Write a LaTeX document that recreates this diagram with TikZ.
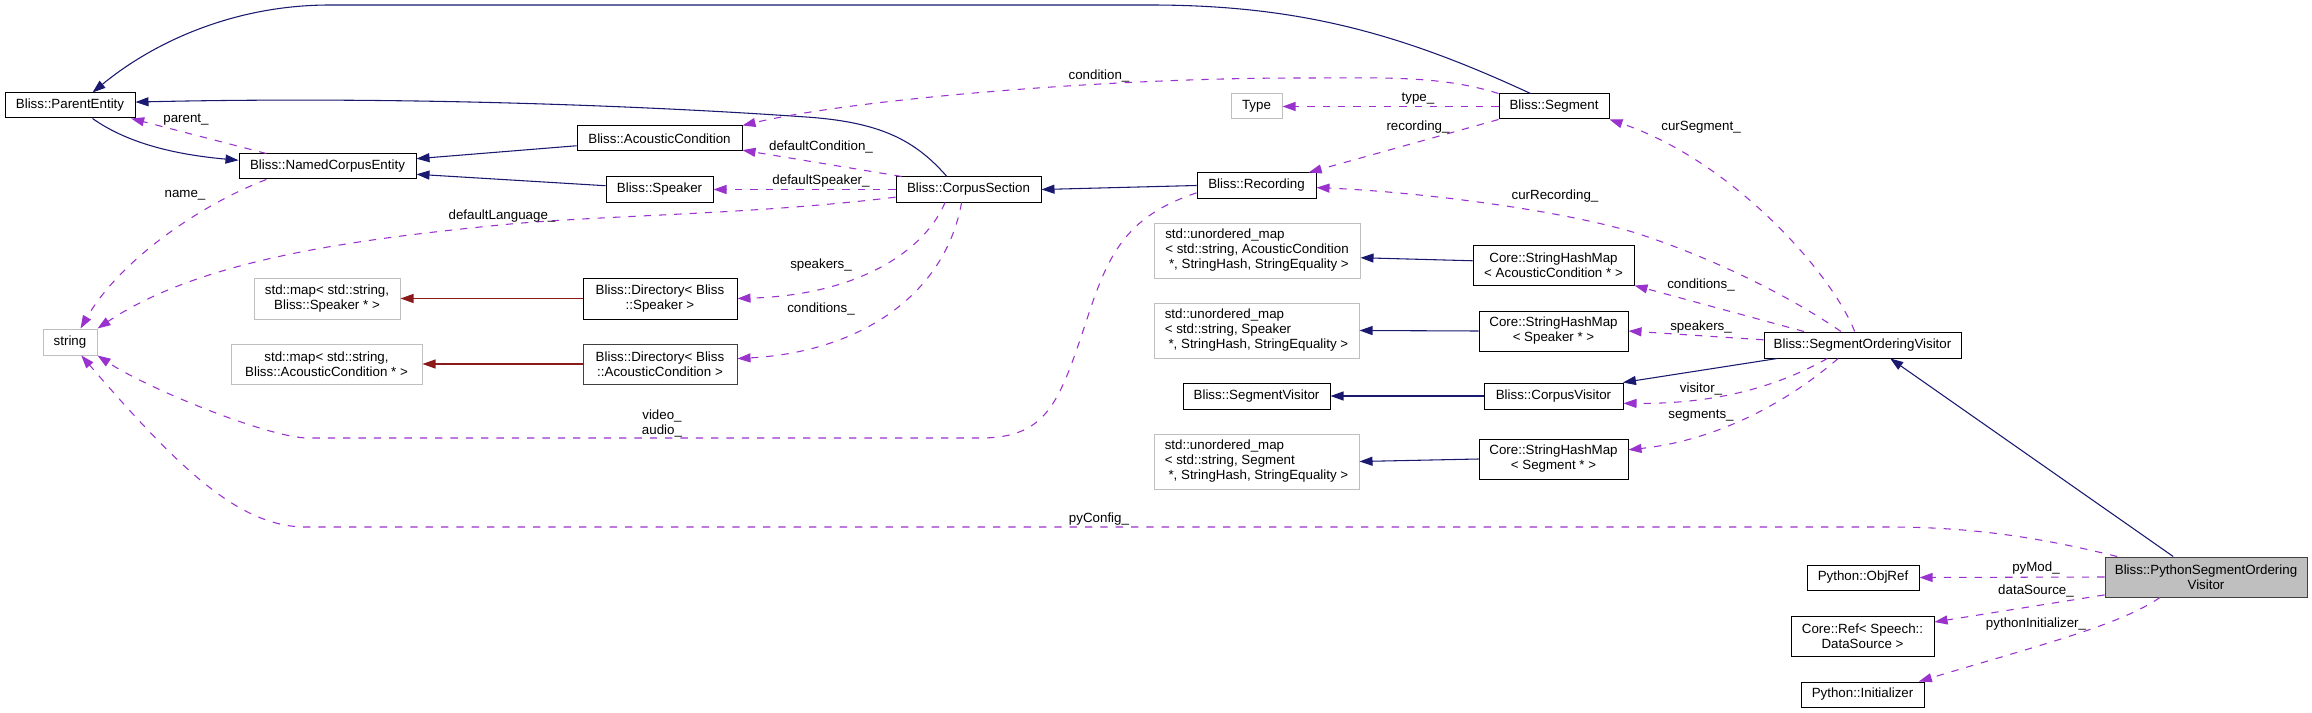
\documentclass[tikz,border=0pt]{standalone}
\usepackage{fontspec}
\setmainfont{Liberation Sans}
\usetikzlibrary{arrows.meta}
\definecolor{midblue}{HTML}{191970}
\definecolor{usepurple}{HTML}{9A32CD}
\definecolor{tplred}{HTML}{8B1A1A}
\definecolor{gray75}{HTML}{BFBFBF}
\newcommand\dfont{\fontsize{10pt}{11.25pt}\selectfont}
\tikzset{
  cls/.style={draw=black, line width=0.75pt, inner sep=0pt, font=\dfont, align=center},
  ext/.style={cls, draw=gray75},
  sz/.style 2 args={minimum width=#1*0.75pt, minimum height=#2*0.75pt},
  tip/.style={-{Triangle[length=9.75pt,width=6.75pt]}},
  inh/.style={draw=midblue, line width=0.8pt, tip},
  tpl/.style={draw=tplred, line width=0.8pt, tip},
  use/.style={draw=usepurple, line width=0.8pt, dash pattern=on 5.5pt off 6pt, tip},
  lbl/.style={font=\dfont, inner sep=0pt, align=center},
}
\begin{document}
\begin{tikzpicture}[x=0.75pt, y=-0.75pt]
\fill[white] (0,0) rectangle (2312,713);
\useasboundingbox (0,0) rectangle (2312,713);

% nodes
\node[cls, sz={130}{25}] (PE) at (70,105.5) {Bliss::ParentEntity};
\node[cls, sz={177}{25}] (NCE) at (327.5,166.5) {Bliss::NamedCorpusEntity};
\node[ext, sz={54}{26}] (STR) at (70,342) {string};
\node[cls, sz={165}{25}] (AC) at (659.5,138.5) {Bliss::AcousticCondition};
\node[cls, sz={107}{25}] (SPK) at (659.5,189.5) {Bliss::Speaker};
\node[cls, sz={145}{25}] (CS) at (968.5,189.5) {Bliss::CorpusSection};
\node[cls, sz={119}{25}] (REC) at (1256.5,185.5) {Bliss::Recording};
\node[ext, sz={51}{25}] (TYPE) at (1256.5,106.5) {Type};
\node[cls, sz={110}{25}] (SEG) at (1554,106.5) {Bliss::Segment};
\node[ext, sz={206}{55}, align=left] (UMAC) at (1257,250.5) {std::unordered\_map\\< std::string, AcousticCondition\\\hspace*{2.8pt}*, StringHash, StringEquality >};
\node[cls, sz={161}{40}] (SHMAC) at (1553.5,265) {Core::StringHashMap\\< AcousticCondition * >};
\node[ext, sz={205}{55}, align=left] (UMSP) at (1256.5,330.5) {std::unordered\_map\\< std::string, Speaker\\\hspace*{2.8pt}*, StringHash, StringEquality >};
\node[cls, sz={149}{40}] (SHMSP) at (1553.5,331) {Core::StringHashMap\\< Speaker * >};
\node[cls, sz={147}{26}] (SV) at (1256.5,396) {Bliss::SegmentVisitor};
\node[cls, sz={139}{26}] (CV) at (1553.5,396) {Bliss::CorpusVisitor};
\node[ext, sz={205}{55}, align=left] (UMSEG) at (1256.5,461.5) {std::unordered\_map\\< std::string, Segment\\\hspace*{2.8pt}*, StringHash, StringEquality >};
\node[cls, sz={149}{40}] (SHMSEG) at (1553.5,459) {Core::StringHashMap\\< Segment * >};
\node[cls, sz={197}{26}] (SOV) at (1862.5,345) {Bliss::SegmentOrderingVisitor};
\node[cls, sz={202}{40}, fill=gray75, draw=black!75] (PSOV) at (2206,577) {Bliss::PythonSegmentOrdering\\Visitor};
\node[cls, sz={112}{25}] (OBJ) at (1863,577.5) {Python::ObjRef};
\node[cls, sz={143}{40}] (CREF) at (1862.5,636) {Core::Ref< Speech::\\DataSource >};
\node[cls, sz={123}{25}] (INIT) at (1862.5,694.5) {Python::Initializer};
\node[ext, sz={146}{41}] (MAPSP) at (327,298.5) {std::map< std::string,\\Bliss::Speaker * >};
\node[ext, sz={191}{40}] (MAPAC) at (326.5,364) {std::map< std::string,\\Bliss::AcousticCondition * >};
\node[cls, sz={154}{41}] (DIRSP) at (660,298.5) {Bliss::Directory< Bliss\\::Speaker >};
\node[cls, sz={154}{40}, draw=black!75] (DIRAC) at (660,364) {Bliss::Directory< Bliss\\::AcousticCondition >};

% inheritance
\draw[inh] (PE.-30) .. controls (130,145) and (180,155) .. (NCE.176);
\draw[inh] (AC.185) -- (NCE.5);
\draw[inh] (SPK.176) -- (NCE.-5);
\draw[inh] (CS.149) .. controls (915,140) and (880,122) .. (806,117) .. controls (650,106) and (400,96) .. (PE.3);
\draw[inh] (SEG.151) .. controls (1402,34) and (1300,5) .. (1150,5) -- (330,5) .. controls (230,5) and (150,45) .. (PE.30);
\draw[inh] (REC.west) -- (CS.east);
\draw[inh] (SHMAC.177) -- (UMAC.-4);
\draw[inh] (SHMSP.west) -- (UMSP.east);
\draw[inh] (CV.west) -- (SV.east);
\draw[inh] (SHMSEG.west) -- (UMSEG.east);
\draw[inh] (SOV.189) -- (CV.11);
\draw[inh] (PSOV.148) -- (SOV.-26);

% template
\draw[tpl] (DIRSP.west) -- (MAPSP.east);
\draw[tpl] (DIRAC.west) -- (MAPAC.east);

% usage
\draw[use] (NCE.168) -- (PE.-12);
\draw[use] (NCE.192) .. controls (200,205) and (120,260) .. (STR.52);
\draw[use] (CS.186) .. controls (750,215) and (600,215) .. (500,225) .. controls (350,240) and (200,260) .. (STR.north east);
\draw[use] (CS.169) -- (AC.-8);
\draw[use] (CS.west) -- (SPK.east);
\draw[use] (CS.209) .. controls (925,250) and (860,295) .. (DIRSP.east);
\draw[use] (CS.242) .. controls (945,295) and (860,352) .. (DIRAC.4);
\draw[use] (SEG.north west) .. controls (1440,75) and (1380,78) .. (1300,78) .. controls (1100,78) and (850,100) .. (AC.north east);
\draw[use] (SEG.west) -- (TYPE.east);
\draw[use] (SEG.south west) -- (REC.14);
\draw[use] (REC.187) .. controls (1130,215) and (1110,250) .. (1090,310) .. controls (1060,400) and (1050,438) .. (980,438) -- (308,438) .. controls (270,438) and (150,390) .. (STR.south east);
\draw[use] (PSOV.167) .. controls (2050,540) and (1980,527) .. (1889,527) -- (306,527) .. controls (240,527) and (180,470) .. (STR.-50);
\draw[use] (SOV.120) .. controls (1830,270) and (1730,160) .. (SEG.south east);
\draw[use] (SOV.148) .. controls (1800,303) and (1725,262) .. (1636,233) .. controls (1560,210) and (1420,192) .. (REC.-2);
\draw[use] (SOV.167) -- (SHMAC.south east);
\draw[use] (SOV.177) -- (SHMSP.east);
\draw[use] (SOV.201) .. controls (1780,385) and (1720,404) .. (CV.-6);
\draw[use] (SOV.209) .. controls (1790,400) and (1720,440) .. (SHMSEG.7);
\draw[use] (PSOV.west) -- (OBJ.east);
\draw[use] (PSOV.190) -- (CREF.11);
\draw[use] (PSOV.204) .. controls (2120,625) and (2040,645) .. (INIT.13);

% labels
\node[lbl] (lparent) at (186,120) {parent\_};
\node[lbl] (lname) at (185,195) {name\_};
\node[lbl] (ldeflang) at (502,216) {defaultLanguage\_};
\node[lbl] (ldefcond) at (821,147) {defaultCondition\_};
\node[lbl] (ldefspk) at (821,181) {defaultSpeaker\_};
\node[lbl] (lspk1) at (821,265) {speakers\_};
\node[lbl] (lcond1) at (821,309) {conditions\_};
\node[lbl] (lcond) at (1099,76) {condition\_};
\node[lbl] (ltype) at (1418,99) {type\_};
\node[lbl] (lrec) at (1418,127) {recording\_};
\node[lbl] (lva) at (662,423) {video\_\\audio\_};
\node[lbl] (lcurrec) at (1555,196) {curRecording\_};
\node[lbl] (lcurseg) at (1701,127) {curSegment\_};
\node[lbl] (lcond2) at (1701,285) {conditions\_};
\node[lbl] (lspk2) at (1701,327) {speakers\_};
\node[lbl] (lvis) at (1701,389) {visitor\_};
\node[lbl] (lsegs) at (1701,416) {segments\_};
\node[lbl] (lpycfg) at (1099,519) {pyConfig\_};
\node[lbl] (lpymod) at (2036,568) {pyMod\_};
\node[lbl] (ldsrc) at (2036,591) {dataSource\_};
\node[lbl] (lpyinit) at (2036,624) {pythonInitializer\_};
\end{tikzpicture}
\end{document}
